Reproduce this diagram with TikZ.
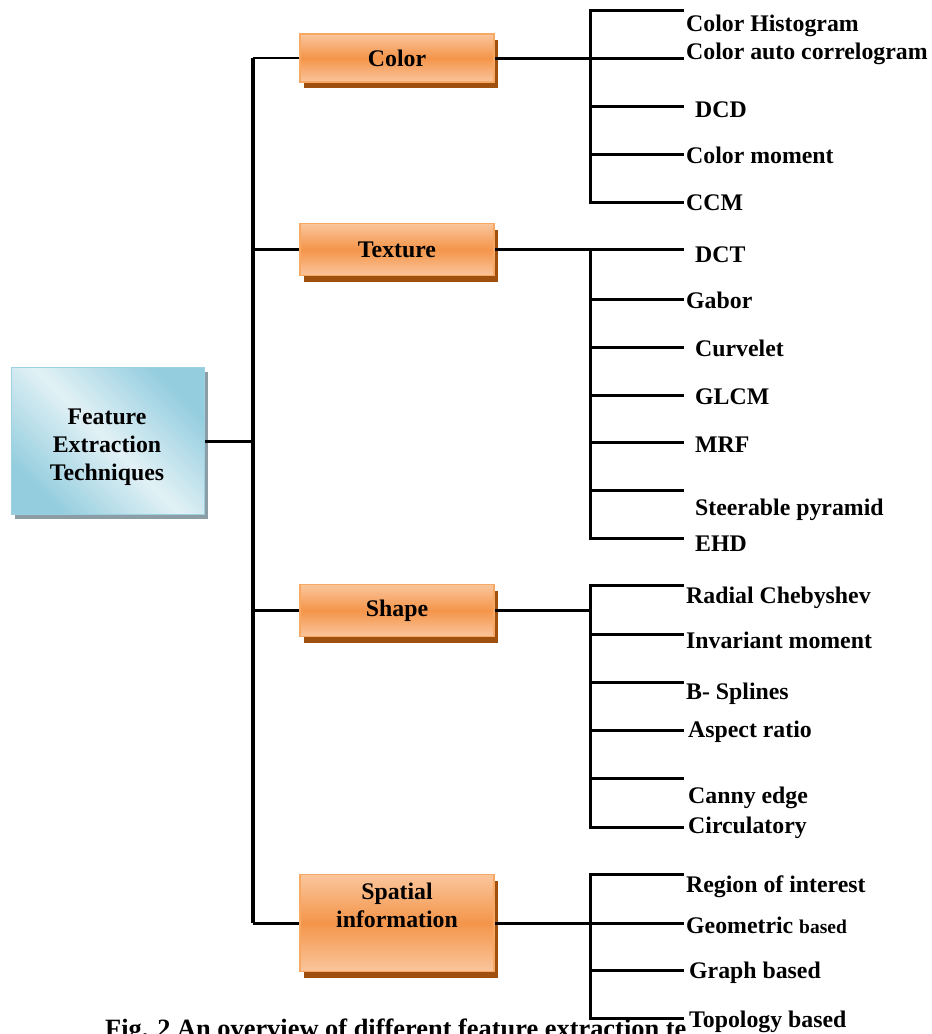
\documentclass[tikz,border=0pt]{standalone}
\usepackage{fontspec}
\setmainfont{Liberation Serif}
\usetikzlibrary{shadows}

\definecolor{orLight}{HTML}{FAC59C}
\definecolor{orMid}{HTML}{F4954A}
\definecolor{orEdge}{HTML}{F7A862}
\definecolor{orShadow}{HTML}{A0500E}
\definecolor{blDark}{HTML}{93CDDE}
\definecolor{blLight}{HTML}{E2F1F6}
\definecolor{blEdge}{HTML}{9BD1E1}
\definecolor{blShadow}{HTML}{8D9DA5}

\tikzset{
  bigfont/.style={font=\fontsize{23.8}{28}\selectfont\bfseries},
  rootbox/.style={draw=blEdge, line width=1.2pt,
    left color=blDark, right color=blDark, middle color=blLight, shading angle=135,
    minimum width=193pt, minimum height=147pt, inner sep=0pt,
    drop shadow={shadow xshift=3pt, shadow yshift=-4pt, fill=blShadow, opacity=1}},
  catbox/.style={draw=orEdge, line width=1.5pt,
    top color=orLight, bottom color=orLight, middle color=orMid,
    minimum width=194pt, inner sep=0pt, bigfont, align=center,
    drop shadow={shadow xshift=4pt, shadow yshift=-6pt, fill=orShadow, opacity=1}},
  boxtext/.style={bigfont, align=center, inner sep=0pt},
  leaf/.style={anchor=base west, inner sep=0pt, bigfont},
  conn/.style={line width=3pt, black},
  thinconn/.style={line width=1.8pt, black},
  spine/.style={line width=3.5pt, black}
}

\begin{document}
\begin{tikzpicture}[x=1pt, y=-1pt]
\useasboundingbox (0,0) rectangle (932,1034);

% root and category boxes
\node[rootbox] (root) at (108,441) {};
\node[boxtext] (roottxt) at (107,447) {Feature\\Extraction\\Techniques};

\node[catbox, minimum height=48pt] (color) at (397,58) {Color};
\node[catbox, minimum height=52pt] (texture) at (397,249.5) {Texture};
\node[catbox, minimum height=52pt] (shape) at (397,610.5) {Shape};
\node[catbox, minimum height=97pt] (spatial) at (397,923) {};
\node[boxtext] (spatialtxt) at (397,905) {Spatial\\information};

% main spine
\coordinate (sTop) at (253,58);
\coordinate (sBot) at (253,923);
\draw[spine] (sTop) -- (sBot);
\draw[conn] (root.east) -- (root.east -| sTop);
\draw[thinconn] (sTop) -- (color.west);
\draw[conn] (texture.west -| sTop) -- (texture.west);
\draw[conn] (shape.west -| sTop) -- (shape.west);
\draw[conn] (sBot) -- (spatial.west);

% colour branches
\coordinate (cTop) at (590,10);
\coordinate (cBot) at (590,202);
\coordinate (c1) at (684,10);
\coordinate (c2) at (684,58);
\coordinate (c3) at (684,106);
\coordinate (c4) at (684,154);
\coordinate (c5) at (684,202);
\draw[conn] (c1) -- (cTop) -- (cBot) -- (c5);
\draw[conn] (color.east) -- (c2);
\draw[conn] (c3 -| cTop) -- (c3);
\draw[conn] (c4 -| cTop) -- (c4);

\node[leaf] (ch)  at (686,31)  {Color Histogram};
\node[leaf] (cac) at (686,59)  {Color auto correlogram};
\node[leaf] (dcd) at (695,117) {DCD};
\node[leaf] (cm)  at (686,163) {Color moment};
\node[leaf] (ccm) at (686,210) {CCM};

% texture branches
\coordinate (tTop) at (590,249.5);
\coordinate (tBot) at (590,538);
\coordinate (t1) at (684,249.5);
\coordinate (t2) at (684,299);
\coordinate (t3) at (684,347);
\coordinate (t4) at (684,395);
\coordinate (t5) at (684,442);
\coordinate (t6) at (684,490);
\coordinate (t7) at (684,538);
\draw[conn] (texture.east) -- (t1);
\draw[conn] (tTop) -- (tBot) -- (t7);
\draw[conn] (t2 -| tTop) -- (t2);
\draw[conn] (t3 -| tTop) -- (t3);
\draw[conn] (t4 -| tTop) -- (t4);
\draw[conn] (t5 -| tTop) -- (t5);
\draw[conn] (t6 -| tTop) -- (t6);

\node[leaf] (dct)   at (695,262) {DCT};
\node[leaf] (gabor) at (686,308) {Gabor};
\node[leaf] (curv)  at (695,356) {Curvelet};
\node[leaf] (glcm)  at (695,404) {GLCM};
\node[leaf] (mrf)   at (695,452) {MRF};
\node[leaf] (steer) at (695,515) {Steerable pyramid};
\node[leaf] (ehd)   at (695,551) {EHD};

% shape branches
\coordinate (shTop) at (590,585);
\coordinate (shBot) at (590,827);
\coordinate (s1) at (684,585);
\coordinate (s2) at (684,634);
\coordinate (s3) at (684,682);
\coordinate (s4) at (684,730);
\coordinate (s5) at (684,778);
\coordinate (s6) at (684,827);
\draw[conn] (s1) -- (shTop) -- (shBot) -- (s6);
\draw[conn] (shape.east) -- (shape.east -| shTop);
\draw[conn] (s2 -| shTop) -- (s2);
\draw[conn] (s3 -| shTop) -- (s3);
\draw[conn] (s4 -| shTop) -- (s4);
\draw[conn] (s5 -| shTop) -- (s5);

\node[leaf] (radial) at (686,603) {Radial Chebyshev};
\node[leaf] (invar)  at (686,648) {Invariant moment};
\node[leaf] (bspl)   at (686,699) {B- Splines};
\node[leaf] (aspect) at (688,737) {Aspect ratio};
\node[leaf] (canny)  at (688,803) {Canny edge};
\node[leaf] (circ)   at (688,833) {Circulatory};

% spatial branches
\coordinate (pTop) at (590,874);
\coordinate (pBot) at (590,1018);
\coordinate (p1) at (684,874);
\coordinate (p2) at (684,923);
\coordinate (p3) at (684,970);
\coordinate (p4) at (684,1018);
\draw[conn] (p1) -- (pTop) -- (pBot) -- (p4);
\draw[conn] (spatial.east) -- (p2);
\draw[conn] (p3 -| pTop) -- (p3);

% caption
\node[anchor=base west, inner sep=0pt, font=\fontsize{26.4}{30}\selectfont\bfseries]
  (caption) at (105,1037) {Fig. 2 An overview of different feature extraction te};

\node[leaf] (roi)   at (686,892) {Region of interest};
\node[leaf] (geom)  at (686,933) {Geometric {\fontsize{19.5}{22}\selectfont based}};
\node[leaf] (graph) at (689,978) {Graph based};
\node[leaf, fill=white] (topo) at (689,1027) {Topology based};
\end{tikzpicture}
\end{document}
